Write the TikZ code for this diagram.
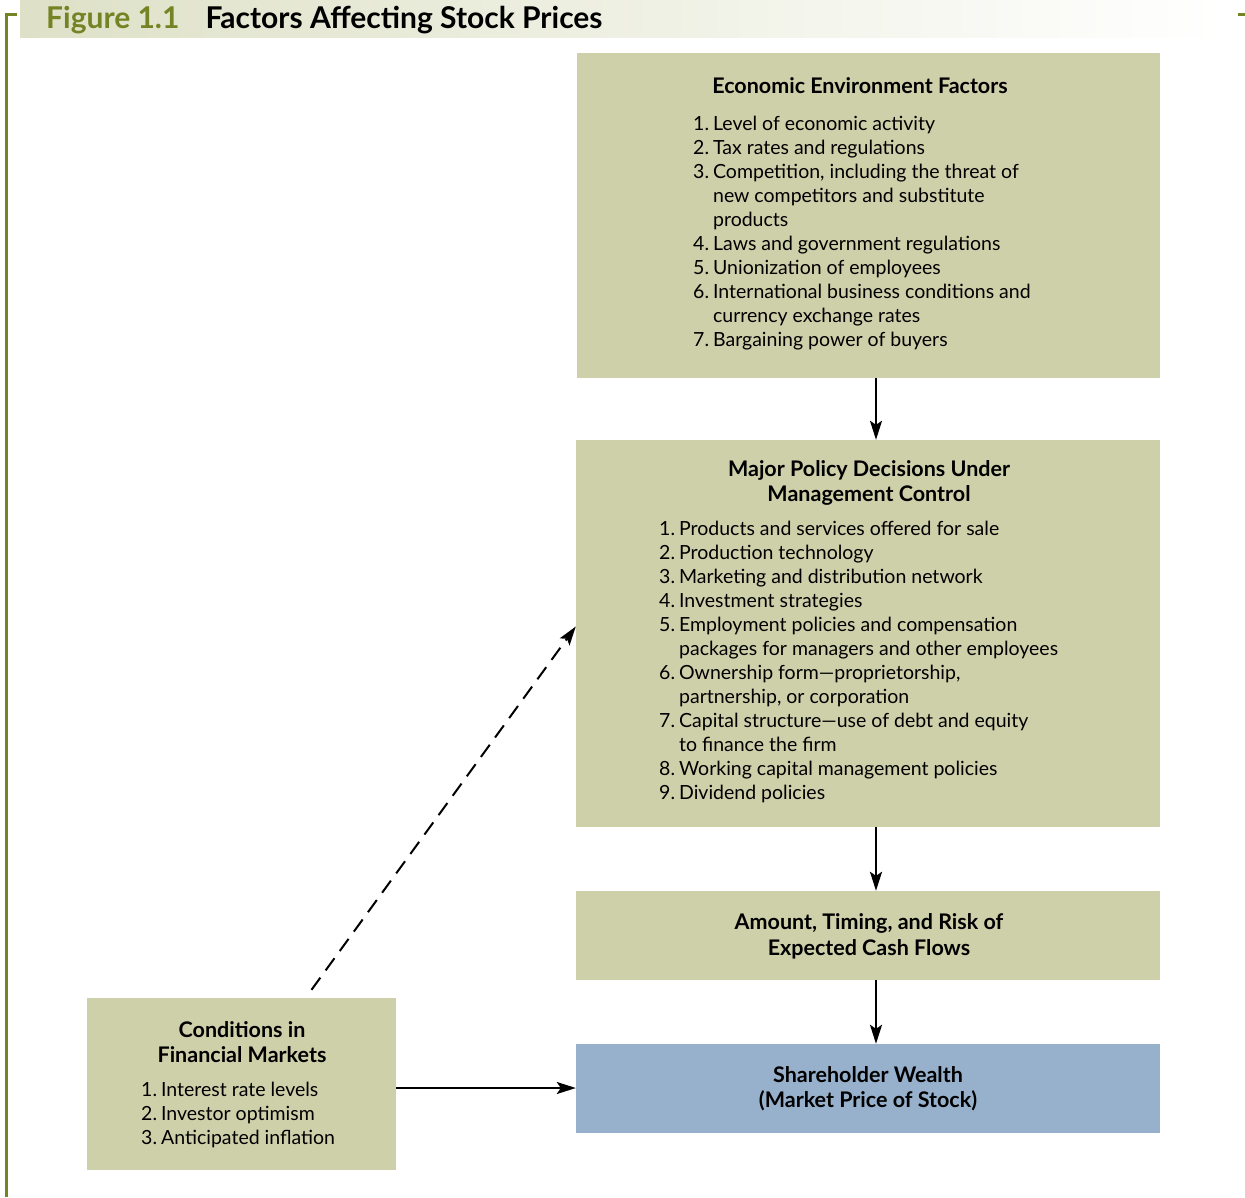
\documentclass[tikz,border=0pt]{standalone}
\usepackage{fontspec}
\setmainfont{Lato}
\usetikzlibrary{arrows.meta,positioning}
\definecolor{boxolive}{RGB}{206,208,170}
\definecolor{boxblue}{RGB}{151,176,204}
\definecolor{figgreen}{RGB}{116,132,36}
\definecolor{bandolive}{RGB}{222,225,199}
\newcommand{\bodysize}{\fontsize{19.5}{24}\selectfont}
\newcommand{\headsize}{\fontsize{21.5}{25.5}\selectfont\bfseries}

\begin{document}
\begin{tikzpicture}[x=1pt,y=-1pt,
    fillbox/.style={fill=boxolive,draw=none,inner sep=0pt},
    listtext/.style={anchor=base west,inner sep=0pt,font=\bodysize},
    headtext/.style={anchor=base,inner sep=0pt,font=\headsize},
    arr/.style={line width=2pt,-{Stealth[length=19pt,width=12pt,inset=4pt]}}]
  \useasboundingbox (0,0) rectangle (1245,1197);

  % title band and frame
  \shade[left color=bandolive,right color=white] (20,0) rectangle (1222,37);
  \node[anchor=base west,inner sep=0pt,font=\fontsize{30}{32}\selectfont\bfseries] (figtitle) at (46,28)
    {\textcolor{figgreen}{Figure 1.1}\hspace{26pt}Factors Affecting Stock Prices};
  \draw[figgreen,line width=3pt] (17,14) -- (6,14) -- (6,1197);
  \draw[figgreen,line width=3pt] (1238,14) -- (1245,14);

  % boxes
  \node[fillbox,minimum width=583pt,minimum height=325pt] (econ) at (868.5,215.5) {};
  \node[fillbox,minimum width=584pt,minimum height=387pt] (policy) at (868,633.5) {};
  \node[fillbox,minimum width=584pt,minimum height=89pt] (cash) at (868,935.5) {};
  \node[fillbox,fill=boxblue,minimum width=584pt,minimum height=89pt] (wealth) at (868,1088.5) {};
  \node[fillbox,minimum width=309pt,minimum height=172pt] (markets) at (241.5,1084) {};

  % economic environment
  \node[headtext] (econhead) at (860,93) {Economic Environment Factors};
  \node[listtext] (econlist) at (693,130) {\begin{tabular}[t]{@{}l@{\hspace{4pt}}l@{}}
    1. & Level of economic activity\\
    2. & Tax rates and regulations\\
    3. & Competition, including the threat of\\
       & new competitors and substitute\\
       & products\\
    4. & Laws and government regulations\\
    5. & Unionization of employees\\
    6. & International business conditions and\\
       & currency exchange rates\\
    7. & Bargaining power of buyers
  \end{tabular}};

  % policy decisions
  \node[headtext] (policyhead) at (869,476) {\begin{tabular}[t]{@{}c@{}}
    Major Policy Decisions Under\\ Management Control\end{tabular}};
  \node[listtext] (policylist) at (659,535) {\begin{tabular}[t]{@{}l@{\hspace{4pt}}l@{}}
    1. & Products and services offered for sale\\
    2. & Production technology\\
    3. & Marketing and distribution network\\
    4. & Investment strategies\\
    5. & Employment policies and compensation\\
       & packages for managers and other employees\\
    6. & Ownership form---proprietorship,\\
       & partnership, or corporation\\
    7. & Capital structure---use of debt and equity\\
       & to finance the firm\\
    8. & Working capital management policies\\
    9. & Dividend policies
  \end{tabular}};

  % cash flows and wealth
  \node[headtext] (cashhead) at (869,929) {\begin{tabular}[t]{@{}c@{}}
    Amount, Timing, and Risk of\\[0.5pt] Expected Cash Flows\end{tabular}};
  \node[headtext] (wealthhead) at (868,1082) {\begin{tabular}[t]{@{}c@{}}
    Shareholder Wealth\\ (Market Price of Stock)\end{tabular}};

  % financial markets
  \node[headtext] (markethead) at (242,1037) {\begin{tabular}[t]{@{}c@{}}
    Conditions in\\ Financial Markets\end{tabular}};
  \node[listtext] (marketlist) at (141,1096) {\begin{tabular}[t]{@{}l@{\hspace{4pt}}l@{}}
    1. & Interest rate levels\\
    2. & Investor optimism\\
    3. & Anticipated inflation
  \end{tabular}};

  % connectors
  \draw[arr] ([xshift=7.5pt]econ.south) -- ([xshift=8pt]policy.north);
  \draw[arr] ([xshift=8pt]policy.south) -- ([xshift=8pt]cash.north);
  \draw[arr] ([xshift=8pt]cash.south) -- ([xshift=8pt]wealth.north);
  \draw[arr] ([yshift=-4pt]markets.east) -- ([yshift=-4pt]markets.east -| wealth.west);
  \draw[arr,dash pattern=on 15pt off 9pt] ([xshift=70pt,yshift=8pt]markets.north) -- ([yshift=7pt]policy.west);
\end{tikzpicture}
\end{document}
